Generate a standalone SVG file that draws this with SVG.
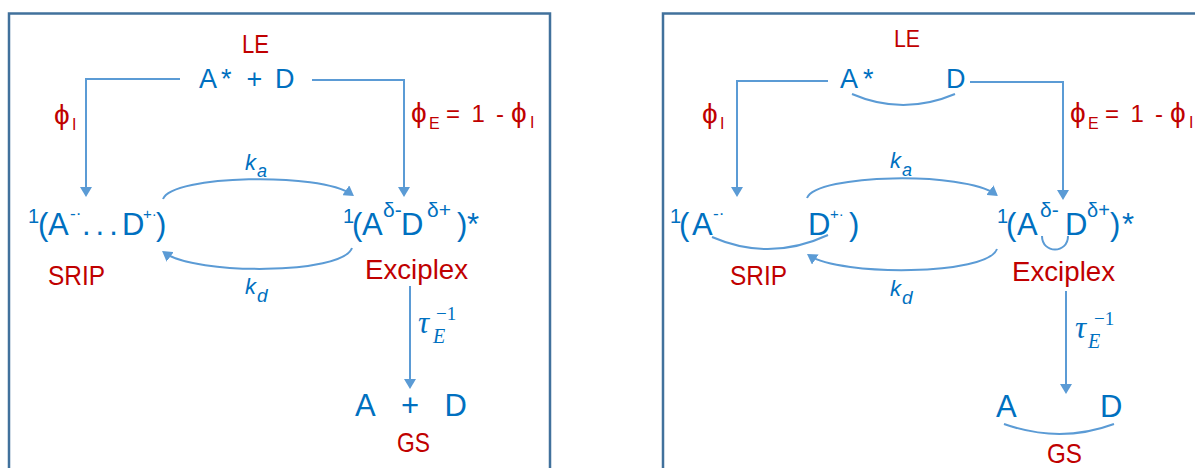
<svg xmlns="http://www.w3.org/2000/svg" width="1195" height="468" viewBox="0 0 1195 468">
<style>
text{font-family:"Liberation Sans","DejaVu Sans",Arial,sans-serif}
.b{fill:#0070C0}
.r{fill:#C00000}
.i{font-style:italic}
.m{font-family:"Liberation Serif","DejaVu Serif",serif}
.box{fill:none;stroke:#41719C;stroke-width:2.5}
.ln{fill:none;stroke:#5B9BD5;stroke-width:2}
.ar{marker-end:url(#ah)}
</style>
<defs>
<marker id="ah" viewBox="0 0 10 12" refX="7" refY="6" markerWidth="10" markerHeight="12" markerUnits="userSpaceOnUse" orient="auto"><path d="M0,0 L10,6 L0,12 z" fill="#5B9BD5"/></marker>
</defs>
<rect width="1195" height="468" fill="#fff"/>

<g id="panel-left">
<path class="box" d="M9,475 V13.5 H550 V475"/>
<g id="L-LE">
<text class="r" x="242" y="53" font-size="25" textLength="27" lengthAdjust="spacingAndGlyphs">LE</text>
<text class="b" y="88" font-size="27"><tspan x="199">A</tspan><tspan x="221">*</tspan><tspan x="246.5">+</tspan><tspan x="275">D</tspan></text>
</g>
<g id="L-SRIP">
<text class="b" font-size="31"><tspan x="28" y="223" font-size="20">1</tspan><tspan x="38" y="235">(</tspan><tspan x="48" y="235">A</tspan><tspan x="70" y="219" font-size="17">-·</tspan><tspan x="82" y="235" letter-spacing="5">...</tspan><tspan x="122" y="235">D</tspan><tspan x="143" y="219" font-size="15">+·</tspan><tspan x="156" y="235">)</tspan></text>
<text class="r" x="48" y="285" font-size="28" textLength="57" lengthAdjust="spacingAndGlyphs">SRIP</text>
</g>
<g id="L-Exciplex">
<text class="b" font-size="31"><tspan x="343" y="223" font-size="20">1</tspan><tspan x="352" y="235">(</tspan><tspan x="362" y="235">A</tspan><tspan x="383" y="217" font-size="21">δ-</tspan><tspan x="401" y="235">D</tspan><tspan x="427" y="217" font-size="21">δ+</tspan><tspan x="457" y="235">)</tspan><tspan x="467" y="235">*</tspan></text>
<text class="r" x="365" y="279" font-size="28" textLength="103" lengthAdjust="spacingAndGlyphs">Exciplex</text>
</g>
<g id="L-GS">
<text class="b" y="416" font-size="31"><tspan x="355">A</tspan><tspan x="401">+</tspan><tspan x="444.5">D</tspan></text>
<text class="r" x="397" y="452" font-size="28" textLength="33" lengthAdjust="spacingAndGlyphs">GS</text>
</g>
<g id="L-connectors">
<path class="ln ar" d="M180,79 H86 V194"/>
<path class="ln ar" d="M312,80 H404 V194"/>
<path class="ln ar" d="M163,199 C172,175 320,172 351.5,194.3"/>
<path class="ln ar" d="M352,248 C342,275 195,275 164.5,252.7"/>
<path class="ln ar" d="M410,286 V386"/>
</g>
<g id="L-labels">
<text class="r"><tspan x="54" y="124" font-size="28">ϕ</tspan><tspan x="72" y="130" font-size="16">I</tspan></text>
<text class="r" font-size="24"><tspan x="411" y="122" font-size="28">ϕ</tspan><tspan x="429" y="129" font-size="16">E</tspan><tspan x="446" y="122">=</tspan><tspan x="471.5" y="122">1</tspan><tspan x="496" y="122">-</tspan><tspan x="511" y="122" font-size="28">ϕ</tspan><tspan x="530" y="128" font-size="16">I</tspan></text>
<text class="b i" font-size="22"><tspan x="245" y="170">k</tspan><tspan x="257" y="177" font-size="18">a</tspan></text>
<text class="b i" font-size="22"><tspan x="245" y="294">k</tspan><tspan x="257" y="302" font-size="19">d</tspan></text>
<text class="b m"><tspan x="418" y="333" font-size="31" font-style="italic">τ</tspan><tspan x="433" y="343" font-size="20" font-style="italic">E</tspan><tspan x="436" y="320" font-size="19">−1</tspan></text>
</g>
</g>

<g id="panel-right">
<path class="box" d="M663,475 V13.5 H1205"/>
<g id="R-LE">
<text class="r" x="894" y="47" font-size="24" textLength="26" lengthAdjust="spacingAndGlyphs">LE</text>
<text class="b" y="88" font-size="27"><tspan x="840">A</tspan><tspan x="863">*</tspan><tspan x="946">D</tspan></text>
<path class="ln" d="M852,94 Q903,116 955,94"/>
</g>
<g id="R-SRIP">
<text class="b" font-size="31"><tspan x="670" y="223" font-size="20">1</tspan><tspan x="679" y="235">(</tspan><tspan x="692" y="235">A</tspan><tspan x="713" y="219" font-size="17">-·</tspan><tspan x="808" y="235">D</tspan><tspan x="830" y="219" font-size="15">+·</tspan><tspan x="849" y="235">)</tspan></text>
<path class="ln" d="M712,237 Q770,262 828,235"/>
<text class="r" x="730" y="285" font-size="28" textLength="57" lengthAdjust="spacingAndGlyphs">SRIP</text>
</g>
<g id="R-Exciplex">
<text class="b" font-size="31"><tspan x="997" y="223" font-size="20">1</tspan><tspan x="1006" y="235">(</tspan><tspan x="1017" y="235">A</tspan><tspan x="1040" y="217" font-size="21">δ-</tspan><tspan x="1065" y="235">D</tspan><tspan x="1087" y="217" font-size="20">δ+</tspan><tspan x="1110" y="235">)</tspan><tspan x="1122" y="235">*</tspan></text>
<path class="ln" d="M1042,236 C1042,254 1068,254 1068,236"/>
<text class="r" x="1012" y="281" font-size="28" textLength="103" lengthAdjust="spacingAndGlyphs">Exciplex</text>
</g>
<g id="R-GS">
<text class="b" y="417" font-size="31"><tspan x="996">A</tspan><tspan x="1100">D</tspan></text>
<path class="ln" d="M1004,424 Q1060,444 1114,424"/>
<text class="r" x="1047" y="463" font-size="28" textLength="35" lengthAdjust="spacingAndGlyphs">GS</text>
</g>
<g id="R-connectors">
<path class="ln ar" d="M828,81 H737 V194"/>
<path class="ln ar" d="M970,82 H1063 V197"/>
<path class="ln ar" d="M807,198 C816,174 964,171 995.5,194.3"/>
<path class="ln ar" d="M997,249 C987,276 840,276 809.5,255.7"/>
<path class="ln ar" d="M1066,291 V391"/>
</g>
<g id="R-labels">
<text class="r"><tspan x="702" y="123" font-size="28">ϕ</tspan><tspan x="720" y="129" font-size="16">I</tspan></text>
<text class="r" font-size="24"><tspan x="1070" y="122" font-size="28">ϕ</tspan><tspan x="1088" y="129" font-size="16">E</tspan><tspan x="1105" y="122">=</tspan><tspan x="1130.5" y="122">1</tspan><tspan x="1155" y="122">-</tspan><tspan x="1170" y="122" font-size="28">ϕ</tspan><tspan x="1189" y="128" font-size="16">I</tspan></text>
<text class="b i" font-size="22"><tspan x="890" y="168">k</tspan><tspan x="902" y="176" font-size="18">a</tspan></text>
<text class="b i" font-size="22"><tspan x="890" y="296">k</tspan><tspan x="902" y="304" font-size="19">d</tspan></text>
<text class="b m"><tspan x="1075" y="338" font-size="31" font-style="italic">τ</tspan><tspan x="1088" y="348" font-size="20" font-style="italic">E</tspan><tspan x="1094" y="325" font-size="19">−1</tspan></text>
</g>
</g>
</svg>
